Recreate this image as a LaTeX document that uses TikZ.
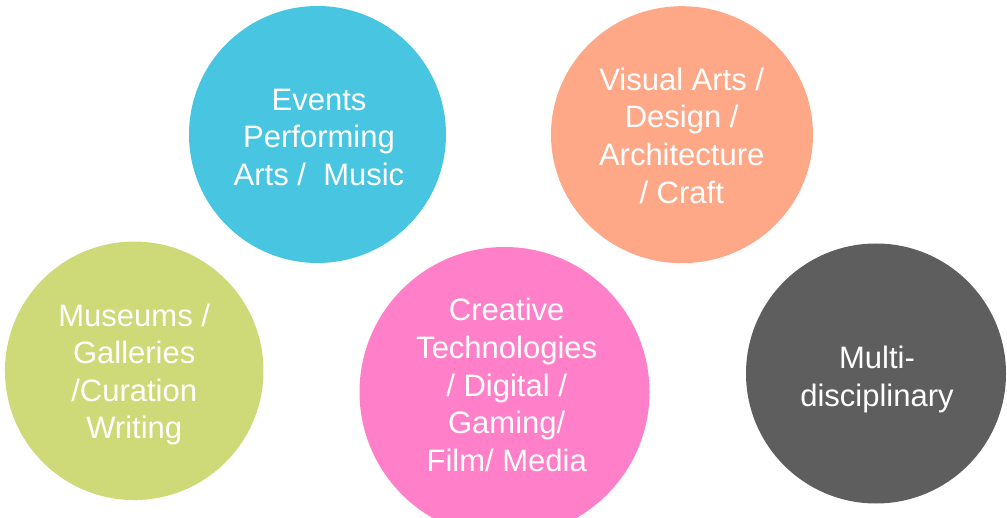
\documentclass[tikz,border=0pt]{standalone}
\usepackage{fontspec}
\setmainfont{Liberation Sans}
\usetikzlibrary{shapes.geometric}
\definecolor{ccyan}{HTML}{48C6E1}
\definecolor{csalmon}{HTML}{FFA887}
\definecolor{cgreen}{HTML}{CDDA77}
\definecolor{cpink}{HTML}{FF80C8}
\definecolor{cgray}{HTML}{5E5E5E}
\begin{document}
\begin{tikzpicture}[x=1pt,y=-1pt,
  blob/.style={ellipse, draw=none, inner sep=0pt, outer sep=0pt},
  txt/.style={text=white, align=center, inner sep=0pt, font=\fontsize{31}{37.6}\selectfont}]
\useasboundingbox (0,0) rectangle (1007,518);
\node[blob, fill=ccyan, minimum width=257pt, minimum height=257pt] (c1) at (317.5,134.5) {};
\node[blob, fill=csalmon, minimum width=262pt, minimum height=257pt] (c2) at (682,134.7) {};
\node[blob, fill=cgreen, minimum width=258.5pt, minimum height=258.5pt] (c3) at (134.2,370.8) {};
\node[blob, fill=cpink, minimum width=290pt, minimum height=290pt] (c4) at (504.5,392) {};
\node[blob, fill=cgray, minimum width=260pt, minimum height=260pt] (c5) at (876,373.5) {};
\node[txt] (t1) at (319,137.1) {Events\\Performing\\Arts /\ \ Music};
\node[txt] (t2) at (681.7,135.7) {Visual Arts /\\Design /\\Architecture\\/ Craft};
\node[txt] (t3) at (134.2,374.5) {Museums /\\Galleries\\/Curation\\Writing};
\node[txt] (t4) at (506.7,385.1) {Creative\\Technologies\\/ Digital /\\Gaming/\\Film/ Media};
\node[txt] (t5) at (877,379.4) {Multi-\\disciplinary};
\end{tikzpicture}
\end{document}
